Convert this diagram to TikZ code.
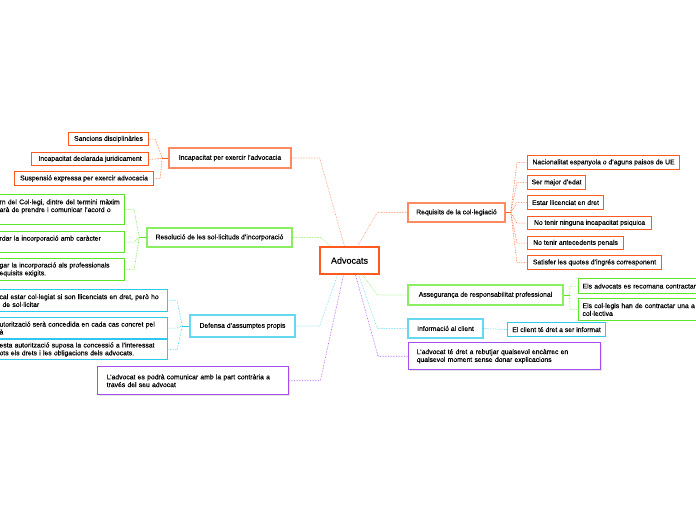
\documentclass[tikz,border=0pt]{standalone}
\usepackage{fontspec}
\setmainfont{Liberation Sans}[FakeBold=0.35]
\usepackage{xcolor}
\usepackage{tikz}
\usetikzlibrary{positioning,shadows}

\definecolor{orLeaf}{HTML}{FF5A1E}
\definecolor{orTop}{HTML}{FF8A60}
\definecolor{grLeaf}{HTML}{5CE62A}
\definecolor{grTop}{HTML}{8AEE62}
\definecolor{cyLeaf}{HTML}{2CC8EE}
\definecolor{cyTop}{HTML}{66D8F2}
\definecolor{puLeaf}{HTML}{A64DF0}

\begin{document}
\begin{tikzpicture}[x=1pt, y=-1pt,
  rootbox/.style={draw=orLeaf, rectangle, line width=1.6pt, fill=white, minimum width=59, minimum height=27, font=\fontsize{9}{11}\selectfont, drop shadow={opacity=0.2, shadow xshift=1pt, shadow yshift=-1pt}},
  topic/.style={draw, rectangle, line width=1.4pt, fill=white, inner xsep=6pt, font=\fontsize{6.8}{7.8}\selectfont, align=left, drop shadow={opacity=0.2, shadow xshift=1pt, shadow yshift=-1pt}},
  leaf/.style={draw, rectangle, line width=1.1pt, fill=white, inner xsep=4pt, inner ysep=1pt, anchor=north west, font=\fontsize{6.8}{7.8}\selectfont, align=left},
  link/.style={densely dotted, line width=0.6pt}
]
\useasboundingbox (0,0) rectangle (696,520);

% Root
\node[rootbox] (root) at (349.5,260.5) {Advocats};

% Incapacitat (orange, left)
\node[topic, draw=orTop, minimum width=122, minimum height=20] (incap) at (230,158) {Incapacitat per exercir l'advocacia};
\node[leaf, draw=orLeaf, minimum width=80, minimum height=13] (sanc) at (68,132) {Sancions disciplinàries};
\node[leaf, draw=orLeaf, minimum width=117, minimum height=13] (decl) at (31,152) {Incapacitat declarada juridicament};
\node[leaf, draw=orLeaf, minimum width=139, minimum height=14] (susp) at (14,171) {Suspensió expressa per exercir advocacia};

% Resolucio (green, left)
\node[topic, draw=grTop, minimum width=145, minimum height=19] (resol) at (219.5,237.5) {Resolució de les sol·licituds d'incorporació};
\node[leaf, draw=grLeaf, text width=121, minimum height=30] (acord) at (-5,194) {rn del Col·legi, dintre del termini màxim\\arà de prendre i comunicar l'acord o\\~};
\node[leaf, draw=grLeaf, text width=121, minimum height=21] (caracter) at (-5,231) {rdar la incorporació amb caràcter\\~};
\node[leaf, draw=grLeaf, text width=121, minimum height=22] (exigits) at (-5,258) {gar la incorporació als professionals\\equisits exigits.};

% Defensa (cyan, left)
\node[topic, draw=cyTop, minimum width=105, minimum height=22] (defensa) at (242.5,326) {Defensa d'assumptes propis};
\node[leaf, draw=cyLeaf, text width=164, minimum height=22] (llicen) at (-5,289) {cal estar col·legiat si son llicenciats en dret, però ho\\\hspace{3pt}de sol·licitar};
\node[leaf, draw=cyLeaf, text width=164, minimum height=21] (autor) at (-5,317) {utorització serà concedida en cada cas concret pel\\à};
\node[leaf, draw=cyLeaf, text width=164, minimum height=20] (drets) at (-5,339) {esta autorització suposa la concessió a l'interessat\\ots els drets i les obligacions dels advocats.};

% Purple, left
\node[topic, draw=puLeaf, anchor=north west, inner xsep=9pt, text width=173, minimum height=28] (contraria) at (97,366) {L'advocat es podrà comunicar amb la part contrària a\\través del seu advocat};

% Requisits (orange, right)
\node[topic, draw=orTop, minimum width=97, minimum height=19] (requis) at (456.5,212.5) {Requisits de la col·legiació};
\node[leaf, draw=orLeaf, minimum width=152, minimum height=14] (nacio) at (527,155) {Nacionalitat espanyola o d'aguns paisos de UE};
\node[leaf, draw=orLeaf, minimum width=58, minimum height=14] (edat) at (527,175) {Ser major d'edat};
\node[leaf, draw=orLeaf, minimum width=76, minimum height=14] (llic) at (527,195) {Estar llicenciat en dret};
\node[leaf, draw=orLeaf, minimum width=124, minimum height=13] (psiq) at (527,216) {No tenir ninguna incapacitat psiquica};
\node[leaf, draw=orLeaf, minimum width=96, minimum height=13] (penals) at (527,236) {No tenir antecedents penals};
\node[leaf, draw=orLeaf, minimum width=134, minimum height=14] (quotes) at (527,255) {Satisfer les quotes d'ingrés corresponent};

% Asseguranca (green, right)
\node[topic, draw=grTop, minimum width=155, minimum height=20] (asseg) at (485.5,295) {Assegurança de responsabilitat professional};
\node[leaf, draw=grLeaf, text width=132, minimum height=15] (recom) at (578,278) {Els advocats es recomana contractar};
\node[leaf, draw=grLeaf, text width=132, minimum height=22] (collegis) at (578,298) {Els col·legis han de contractar una a\\col·lectiva};

% Informacio (cyan, right)
\node[topic, draw=cyTop, minimum width=75, minimum height=19] (inform) at (445.5,328.5) {Informació al client};
\node[leaf, draw=cyLeaf, minimum width=98, minimum height=14] (dret) at (507,322) {El client té dret a ser informat};

% Purple, right
\node[topic, draw=puLeaf, anchor=north west, inner xsep=8pt, text width=176, minimum height=27] (rebutjar) at (408,342) {L'advocat té dret a rebutjar qualsevol encàrrec en\\qualsevol moment sense donar explicacions};

% Links from root
\draw[link, orTop] (incap.east) -- ++(28,0) -- ([xshift=-5pt]root.north);
\draw[link, orTop] (requis.west) -- ++(-30,0) -- ([xshift=8pt]root.north);
\draw[link, grTop] (resol.east) -- ++(28,0) -- ([xshift=12pt]root.north west);
\draw[link, cyTop] (defensa.east) -- ++(24,0) -- ([xshift=-12pt]root.south);
\draw[link, puLeaf] (contraria.east) -- ++(31,0) -- ([xshift=-6pt]root.south);
\draw[link, puLeaf] (rebutjar.west) -- ++(-30,0) -- ([xshift=6pt]root.south);
\draw[link, cyTop] (inform.west) -- ++(-30,0) -- ([xshift=9pt]root.south);
\draw[link, grTop] (asseg.west) -- ++(-30,0) -- ([xshift=13pt]root.south);

% Links to leaves
\draw[orLeaf, line width=0.8pt] (incap.west) -- ++(-6,0) coordinate (incapj);
\foreach \n in {sanc,decl,susp}
  \draw[link, orLeaf] (incapj) -- ([xshift=6pt]\n.east) -- (\n.east);
\draw[grLeaf, line width=0.8pt] (resol.west) -- ++(-7,0) coordinate (resolj);
\foreach \n in {acord,caracter,exigits}
  \draw[link, grLeaf] (resolj) -- ([xshift=9pt]\n.east) -- (\n.east);
\draw[cyLeaf, line width=0.8pt] (defensa.west) -- ++(-7,0) coordinate (defensaj);
\foreach \n in {llicen,autor,drets}
  \draw[link, cyLeaf] (defensaj) -- ([xshift=9pt]\n.east) -- (\n.east);
\draw[orLeaf, line width=0.8pt] (requis.east) -- ++(5,0) coordinate (requisj);
\foreach \n in {nacio,edat,llic,psiq,penals,quotes}
  \draw[link, orLeaf] (requisj) -- ([xshift=-10pt]\n.west) -- (\n.west);
\draw[grLeaf, line width=0.8pt] (asseg.east) -- ++(6,0) coordinate (assegj);
\foreach \n in {recom,collegis}
  \draw[link, grLeaf] (assegj) -- ([xshift=-8pt]\n.west) -- (\n.west);
\draw[link, cyLeaf] (inform.east) -- (dret.west);

\end{tikzpicture}
\end{document}
